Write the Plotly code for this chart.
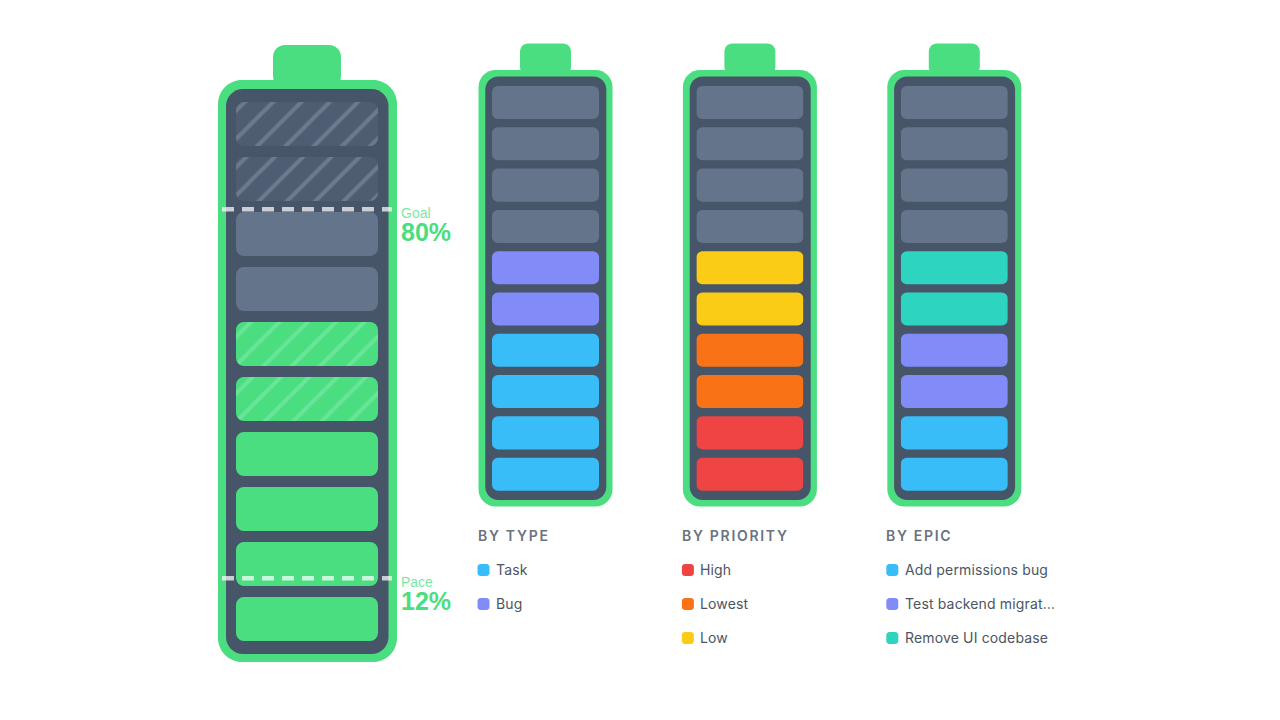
import plotly.graph_objects as go

W = 1280
H = 720

GREEN = "#4ade80"
SLATE = "#475569"
GREY = "#64748b"
BLUE = "#38bdf8"
INDIGO = "#818cf8"
TEAL = "#2dd4bf"
RED = "#ef4444"
ORANGE = "#f97316"
YELLOW = "#facc15"

# cells of each battery, listed from the bottom up
MAIN_CELLS = ["done"] * 4 + ["done_hatch"] * 2 + ["todo"] * 2 + ["todo_hatch"] * 2
TYPE_CELLS = ["Task"] * 4 + ["Bug"] * 2 + ["todo"] * 4
PRIORITY_CELLS = ["High"] * 2 + ["Lowest"] * 2 + ["Low"] * 2 + ["todo"] * 4
EPIC_CELLS = (["Add permissions bug"] * 2 + ["Test backend migrat…"] * 2
              + ["Remove UI codebase"] * 2 + ["todo"] * 4)

TYPE_NAMES = ["Task", "Bug"]
TYPE_COLORS = [BLUE, INDIGO]
PRIORITY_NAMES = ["High", "Lowest", "Low"]
PRIORITY_COLORS = [RED, ORANGE, YELLOW]
EPIC_NAMES = ["Add permissions bug", "Test backend migrat…", "Remove UI codebase"]
EPIC_COLORS = [BLUE, INDIGO, TEAL]

MARKER_NAMES = ["Goal", "Pace"]
MARKER_VALUES = [80, 12]

HATCH_COLORS = {"done_hatch": "#8aeab0", "todo_hatch": "#8c97a7"}


def px(x):
    return x / W


def py(y):
    return 1 - y / H


def rounded_rect(x0, y0, x1, y1, r, color):
    # rounded rectangle given in page pixels, drawn in paper coordinates
    k = r * 0.4477
    points = [
        f"M{px(x0 + r)},{py(y0)}",
        f"L{px(x1 - r)},{py(y0)}",
        f"C{px(x1 - k)},{py(y0)} {px(x1)},{py(y0 + k)} {px(x1)},{py(y0 + r)}",
        f"L{px(x1)},{py(y1 - r)}",
        f"C{px(x1)},{py(y1 - k)} {px(x1 - k)},{py(y1)} {px(x1 - r)},{py(y1)}",
        f"L{px(x0 + r)},{py(y1)}",
        f"C{px(x0 + k)},{py(y1)} {px(x0)},{py(y1 - k)} {px(x0)},{py(y1 - r)}",
        f"L{px(x0)},{py(y0 + r)}",
        f"C{px(x0)},{py(y0 + k)} {px(x0 + k)},{py(y0)} {px(x0 + r)},{py(y0)}",
        "Z",
    ]
    return dict(type="path", xref="paper", yref="paper", path=" ".join(points),
                fillcolor=color, line_width=0, layer="below")


def label(x, y, text, size, color, family="Inter", weight=400):
    # annotations sit about 2px in from their anchor
    return dict(xref="paper", yref="paper", x=px(x - 2), y=py(y), text=text, showarrow=False,
                xanchor="left", yanchor="middle", align="left",
                font=dict(family=family, size=size, color=color, weight=weight))


fig = go.Figure()
shapes = []
annotations = []


def add_battery(n, cells, palette, domain_x, domain_y, x_range, radius):
    rows = list(range(len(cells)))
    for status in dict.fromkeys(cells):
        picked = [r for r in rows if cells[r] == status]
        # giving a base makes plotly round all four corners of the bar
        fig.add_trace(go.Bar(
            y=picked,
            x=[1] * len(picked),
            base=0,
            orientation="h",
            width=0.8,
            showlegend=False,
            hoverinfo="skip",
            name=status,
            marker=dict(
                color=palette[status],
                cornerradius=radius,
                line_width=0,
                pattern=dict(
                    shape="/" if status in HATCH_COLORS else "",
                    fgcolor=HATCH_COLORS.get(status, palette[status]),
                    size=20,
                    solidity=0.2,
                ),
            ),
            xaxis=f"x{n}",
            yaxis=f"y{n}",
        ))
    fig.update_layout({
        f"xaxis{n}": dict(domain=[px(domain_x[0]), px(domain_x[1])], range=x_range,
                          visible=False, fixedrange=True),
        f"yaxis{n}": dict(domain=[py(domain_y[1]), py(domain_y[0])], range=[-0.5, 9.5],
                          visible=False, fixedrange=True, anchor=f"x{n}"),
    })


# big battery, axes are padded so the dashed lines reach past the cells
main_palette = {"done": GREEN, "done_hatch": GREEN, "todo": GREY, "todo_hatch": "#4f5d73"}
main_range = [-14 / 142, 1 + 14 / 142]
add_battery(1, MAIN_CELLS, main_palette, (222, 392), (96.5, 646.5), main_range, 8)
fig.update_layout(yaxis5=dict(domain=[py(646.5), py(96.5)], range=[-0.57, 100.79], visible=False,
                              fixedrange=True, overlaying="y", anchor="x"))
for name, value in zip(MARKER_NAMES, MARKER_VALUES):
    fig.add_trace(go.Scatter(
        x=main_range,
        y=[value, value],
        mode="lines",
        line=dict(color="rgba(255,255,255,0.72)", width=4.5, dash="12px,8px"),
        showlegend=False,
        hoverinfo="skip",
        name=name,
        xaxis="x",
        yaxis="y5",
    ))

shapes.append(rounded_rect(273, 45, 341, 88, 12, GREEN))
shapes.append(rounded_rect(218, 80, 397, 662, 24, GREEN))
shapes.append(rounded_rect(226, 89, 388.5, 654, 17, SLATE))

annotations.append(label(401, 213, MARKER_NAMES[0], 14, "rgba(74,222,128,0.75)", "Liberation Sans"))
annotations.append(label(401, 232, f"{MARKER_VALUES[0]}%", 25, GREEN, "Liberation Sans", 700))
annotations.append(label(401, 582, MARKER_NAMES[1], 14, "rgba(74,222,128,0.75)", "Liberation Sans"))
annotations.append(label(401, 601, f"{MARKER_VALUES[1]}%", 25, GREEN, "Liberation Sans", 700))

# small batteries with their legends
small = [
    ("BY TYPE", TYPE_CELLS, TYPE_NAMES, TYPE_COLORS),
    ("BY PRIORITY", PRIORITY_CELLS, PRIORITY_NAMES, PRIORITY_COLORS),
    ("BY EPIC", EPIC_CELLS, EPIC_NAMES, EPIC_COLORS),
]
for i, (title, cells, names, colors) in enumerate(small):
    off = 204.4 * i
    palette = dict(zip(names, colors))
    palette["todo"] = GREY
    add_battery(i + 2, cells, palette, (492 + off, 599 + off), (81.9, 494.8), [0, 1], 6)

    shapes.append(rounded_rect(520 + off, 43.5, 571 + off, 75, 8, GREEN))
    shapes.append(rounded_rect(478.5 + off, 70, 612.5 + off, 506.5, 17, GREEN))
    shapes.append(rounded_rect(485.3 + off, 76.5, 606.3 + off, 500, 13, SLATE))

    annotations.append(label(477.5 + off, 535, title, 14, "#6b7280", weight=600))
    for j, (name, color) in enumerate(zip(names, colors)):
        y = 570 + 34 * j
        shapes.append(rounded_rect(477.5 + off, y - 6, 489.5 + off, y + 6, 3, color))
        annotations.append(label(496 + off, y - 1, name, 14, "#4b5563"))

fig.update_layout(
    width=W,
    height=H,
    margin=dict(l=0, r=0, t=0, b=0),
    paper_bgcolor="white",
    plot_bgcolor="rgba(0,0,0,0)",
    barmode="overlay",
    shapes=shapes,
    annotations=annotations,
)

# plotly has no letter spacing for text, so set it on the page
post = """
document.body.style.margin = '0';
document.querySelectorAll('.annotation-text').forEach(function (t) {
    if (t.textContent.startsWith('BY ')) { t.style.letterSpacing = '1.7px'; }
    else if (t.style.fontFamily.indexOf('Inter') >= 0) { t.style.letterSpacing = '0.15px'; }
});
"""
fig.write_html("out.html", post_script=post, config=dict(displayModeBar=False))
